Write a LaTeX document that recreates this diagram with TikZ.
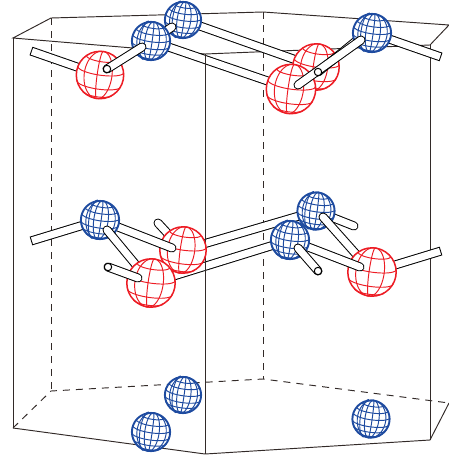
\documentclass[tikz,border=0pt]{standalone}
\definecolor{ballblue}{RGB}{30,75,160}
\definecolor{ballred}{RGB}{237,28,36}
\definecolor{frameline}{RGB}{50,42,40}
\tikzset{
  frame/.style={draw=frameline,line width=0.95pt},
  hidden/.style={frame,dash pattern=on 7pt off 6pt},
}
% sphere: #1 centre, #2 radius
\newcommand\wirecurves[2]{%
  \foreach \s in {#1}{\draw[smooth] plot[domain=-90:90,samples=13,variable=\t] ({\s*cos(\t)},{sin(\t)});}
  \foreach \p in {#2}{\draw[smooth] plot[domain=0:180,samples=11,variable=\t] ({cos(\p)*cos(\t)},{sin(\p)*0.97+0.25*cos(\p)*sin(\t)});}
}
\newcommand\blueball[2]{%
  \begin{scope}[shift={(#1)},x=#2pt,y=-#2pt]
    \fill[white] (0,0) circle[radius=#2pt];
    \begin{scope}[rotate=-8,draw=ballblue,line width=0.95pt]
      \wirecurves{-0.72,-0.32,0.06,0.42,0.78}{-55,-33,-12,10,30,52}
      \draw[smooth] plot[domain=-90:90,samples=13,variable=\t] ({-0.32*cos(\t)-0.25},{sin(\t)});
    \end{scope}
    \draw[ballblue,line width=1.9pt] (0,0) circle[radius=#2pt-0.4pt];
  \end{scope}}
\newcommand\redball[2]{%
  \begin{scope}[shift={(#1)},x=#2pt,y=-#2pt]
    \fill[white] (0,0) circle[radius=#2pt];
    \begin{scope}[rotate=-8,draw=ballred,line width=0.95pt]
      \wirecurves{-0.66,-0.12,0.5}{-48,-14,22,52}
    \end{scope}
    \draw[ballred,line width=1.5pt] (0,0) circle[radius=#2pt-0.3pt];
  \end{scope}}
% rods
\newcommand\rodround[2]{%
  \draw[black,line width=9pt,line cap=round] (#1) -- (#2);
  \draw[white,line width=7pt,line cap=round] (#1) -- (#2);}
\newcommand\rodflat[2]{%
  \draw[black,line width=9pt] (#1) -- (#2);
  \draw[white,line width=7pt,shorten <=1pt,shorten >=1pt] (#1) -- (#2);}
\newcommand\rodend[1]{\draw[black,fill=white,line width=1pt] (#1) circle[radius=3.7pt];}
\begin{document}
\begin{tikzpicture}[x=1pt,y=-1pt]
\useasboundingbox (0,0) rectangle (449,456);
% frame corners
\coordinate (A) at (13,38); \coordinate (B) at (51,18); \coordinate (C) at (263,12);
\coordinate (D) at (449,25); \coordinate (E) at (430,45); \coordinate (F) at (205,54);
\coordinate (a) at (13,428); \coordinate (b) at (51,391); \coordinate (c) at (263,379);
\coordinate (d) at (449,403); \coordinate (e) at (430,440); \coordinate (f) at (205,454);
% atoms
\coordinate (b1) at (183,20); \coordinate (b2) at (151,41); \coordinate (b3) at (372,33);
\coordinate (r1) at (100,75); \coordinate (r2) at (316,67); \coordinate (r3) at (291,89);
\coordinate (b4) at (100,220); \coordinate (b5) at (316,211); \coordinate (b6) at (290,240);
\coordinate (r4) at (183,250); \coordinate (r5) at (151,283); \coordinate (r6) at (372,272);
\coordinate (b7) at (183,395); \coordinate (b8) at (151,432); \coordinate (b9) at (371,419);
% back of the frame
\draw[hidden] (B) -- (b); \draw[hidden] (C) -- (c);
\draw[hidden] (a) -- (b) -- (c) -- (d);
\draw[frame] (A) -- (B) -- (C) -- (D) -- (E) -- (F) -- cycle;
\draw[frame] (a) -- (f) -- (e) -- (d);
\draw[frame] (A) -- (a); \draw[frame] (E) -- (e);
% rods behind everything
\coordinate (t1) at (31,51); \coordinate (t2) at (441,57);
\coordinate (m1) at (31,241); \coordinate (m2) at (441,251);
\rodflat{t1}{r1}
\rodflat{b1}{r2}
\rodflat{b2}{r3}
\rodflat{b3}{t2}
\rodflat{r4}{b5}
\rodflat{r5}{b6}
\rodflat{m1}{b4}
\rodflat{r6}{m2}
\draw[frame] (F) -- (f);
% top layer
\redball{r1}{24}
\blueball{b1}{18.5}
\coordinate (s1) at (172,27);
\rodround{s1}{b2}
\blueball{b2}{19.5}
\coordinate (u1) at (107,69); \coordinate (u2) at (142,47);
\rodround{u1}{u2} \rodend{u1}
\redball{r2}{23.5}
\coordinate (v1) at (318,72); \coordinate (v2) at (372,28);
\rodround{v1}{v2}
\blueball{b3}{19.5}
\redball{r3}{25}
\coordinate (w1) at (298,85); \coordinate (w2) at (361,40);
\rodround{w1}{w2} \rodend{v1}
% middle layer
\coordinate (k1) at (158,223);
\rodround{k1}{r4}
\redball{r4}{23.5}
\coordinate (k2) at (172,248);
\rodround{b4}{k2}
\blueball{b4}{19.5}
\coordinate (k3) at (107,230);
\rodround{k3}{r5}
\redball{r5}{24.5}
\coordinate (k4) at (108,267); \coordinate (k5) at (138,278);
\rodround{k4}{k5} \rodend{k4}
\coordinate (n1) at (354,226);
\rodround{b5}{n1}
\blueball{b5}{19}
\coordinate (n2) at (323,217);
\rodround{n2}{r6}
\redball{r6}{24.5}
\coordinate (n3) at (360,267);
\rodround{b6}{n3}
\blueball{b6}{19.5}
\coordinate (n4) at (298,248); \coordinate (n5) at (318,271);
\rodround{n4}{n5} \rodend{n5}
% bottom layer
\blueball{b7}{18.5}
\blueball{b8}{19.5}
\blueball{b9}{19}
\end{tikzpicture}
\end{document}
